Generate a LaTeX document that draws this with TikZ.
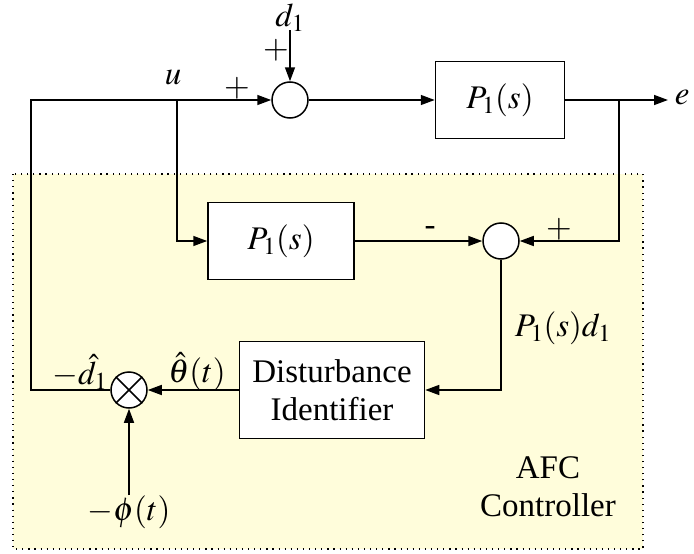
\documentclass[tikz,border=0pt]{standalone}
\usepackage{mathptmx}
\usepackage{fontspec}
\setmainfont{Liberation Serif}
\usetikzlibrary{arrows.meta}
\begin{document}
\begin{tikzpicture}[
    x=1pt, y=-1pt,
    block/.style={draw, fill=white, line width=1.5pt, inner sep=0pt, align=center},
    sum/.style={draw, circle, fill=white, line width=1.5pt, minimum size=36pt, inner sep=0pt},
    lbl/.style={inner sep=0pt},
    >={Triangle[length=14pt,width=10pt]}, line width=1.5pt,
    font=\fontsize{33}{38}\selectfont
]
\useasboundingbox (0,0) rectangle (694,554);
% AFC controller area
\fill[yellow!14] (13,174) rectangle (643,549);
\draw[line width=1.2pt, dash pattern=on 1.2pt off 4.9pt] (13,174) rectangle (643,549);

\node[sum] (sum1) at (290,100) {};
\node[block, minimum width=129pt, minimum height=77pt] (plant) at (500,100) {$P_1(s)$};
\node[block, minimum width=146pt, minimum height=77pt] (model) at (281,241) {$P_1(s)$};
\node[sum] (sum2) at (501,241) {};
\node[block, minimum width=185pt, minimum height=97pt] (ident) at (332,390) {Disturbance\\Identifier};
\node[sum] (mult) at (129,390) {};
\draw (mult.north west) -- (mult.south east);
\draw (mult.north east) -- (mult.south west);

\coordinate (dIn) at (290,30);
\coordinate (uSplit) at (177,100);
\coordinate (eSplit) at (619,100);
\coordinate (eOut) at (668,100);
\coordinate (phiIn) at (129,495);

\draw[->] (dIn) -- (sum1.north);
\draw[->] (mult.west) -| (31,100) -- (sum1.west);
\draw[->] (sum1.east) -- (plant.west);
\draw (plant.east) -- (eSplit);
\draw[->] (eSplit) -- (eOut);
\draw[->] (eSplit) |- (sum2.east);
\draw[->] (uSplit) |- (model.west);
\draw[->] (model.east) -- (sum2.west);
\draw[->] (sum2.south) |- (ident.east);
\draw[->] (ident.west) -- (mult.east);
\draw[->] (phiIn) -- (mult.south);

% signal labels
\node[lbl] (dLbl) at (290,18) {$d_1$};
\node[lbl] (dSign) at (276,50) {$+$};
\node[lbl] (uLbl) at (173,78) {$u$};
\node[lbl] (uSign) at (237,88) {$+$};
\node[lbl, anchor=west] (eLbl) at (674,98) {$e$};
\node[lbl] (mSign) at (430,231) {-};
\node[lbl] (eSign) at (559,229) {$+$};
\node[lbl] (pdLbl) at (563,328) {$P_1(s)d_1$};
\node[lbl] (thLbl) at (197,372) {$\hat{\theta}(t)$};
\node[lbl] (dhLbl) at (80,372) {$-\hat{d}_1$};
\node[lbl] (phiLbl) at (129,512) {$-\phi(t)$};
\node[lbl, align=center] (afcLbl) at (548,487) {AFC\\Controller};
\end{tikzpicture}
\end{document}
